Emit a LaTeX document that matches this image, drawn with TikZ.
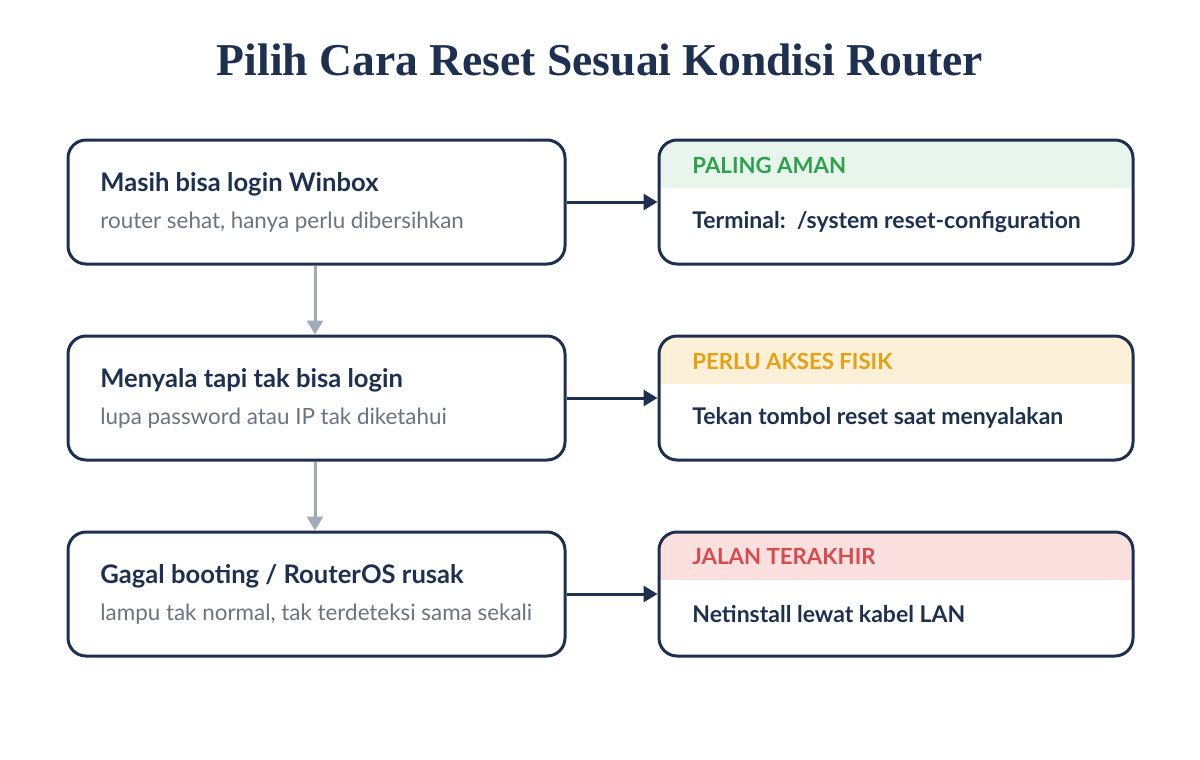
\documentclass[tikz,border=0pt]{standalone}
\usepackage{fontspec}
\setmainfont{Lato}
\newfontfamily\titlefont{Liberation Serif}
\usetikzlibrary{arrows.meta,positioning}
\definecolor{navy}{HTML}{1E3050}
\definecolor{subgray}{HTML}{6B7280}
\definecolor{arrgray}{HTML}{A0AAB8}
\definecolor{greenfill}{HTML}{E8F5EC}\definecolor{greentext}{HTML}{2EA24A}
\definecolor{orangefill}{HTML}{FCF0D8}\definecolor{orangetext}{HTML}{E8A013}
\definecolor{redfill}{HTML}{FCE0E0}\definecolor{redtext}{HTML}{D94A4A}
\tikzset{
  box/.style={draw=navy,line width=1.5pt,rounded corners=9pt,minimum width=248.5pt,minimum height=62pt,inner sep=0pt},
  rbox/.style={box,minimum width=237pt},
  head/.style={anchor=west,inner sep=0pt,font=\bfseries\fontsize{12.8}{14}\selectfont,text=navy},
  body/.style={anchor=west,inner sep=0pt,font=\bfseries\fontsize{11.5}{13}\selectfont,text=navy},
  sub/.style={anchor=west,inner sep=0pt,font=\fontsize{11.2}{13}\selectfont,text=subgray},
  tag/.style={anchor=west,inner sep=0pt,font=\bfseries\fontsize{11.1}{13}\selectfont},
  go/.style={-{Triangle[length=7pt,width=8pt]},line width=1.5pt,draw=navy},
  down/.style={-{Triangle[length=7pt,width=8pt]},line width=1.5pt,draw=arrgray}
}
\begin{document}
\begin{tikzpicture}[x=0.5pt,y=-0.5pt]
\useasboundingbox (0,0) rectangle (1200,760);
\node[font=\titlefont\bfseries\fontsize{22.8}{26}\selectfont,text=navy] (title) at (600,60) {Pilih Cara Reset Sesuai Kondisi Router};

% left column
\foreach \n/\y/\h/\s in {a/202/{Masih bisa login Winbox}/{router sehat, hanya perlu dibersihkan},
  b/398/{Menyala tapi tak bisa login}/{lupa password atau IP tak diketahui},
  c/594/{Gagal booting / RouterOS rusak}/{lampu tak normal, tak terdeteksi sama sekali}}{
  \node[box] (\n) at (316.5,\y) {};
  \node[head] at (100,\y-18) {\h};
  \node[sub] at (100,\y+20) {\s};
}

% right column
\foreach \n/\y/\f/\c/\t/\b in {pa/202/greenfill/greentext/{PALING AMAN}/{Terminal:\ \ /system reset-configuration},
  pb/398/orangefill/orangetext/{PERLU AKSES FISIK}/{Tekan tombol reset saat menyalakan},
  pc/594/redfill/redtext/{JALAN TERAKHIR}/{Netinstall lewat kabel LAN}}{
  \fill[\f,rounded corners=9pt] (659,\y-62) -- (1133,\y-62) -- (1133,\y-14) -- (659,\y-14) -- cycle;
  \fill[\f] (659,\y-30) rectangle (1133,\y-14);
  \node[rbox] (\n) at (896,\y) {};
  \node[tag,text=\c] at (692,\y-37) {\t};
  \node[body] at (692,\y+20) {\b};
}

\draw[go] (a) -- (pa);
\draw[go] (b) -- (pb);
\draw[go] (c) -- (pc);
\draw[down] (a.south -| 315,0) -- (b.north -| 315,0);
\draw[down] (b.south -| 315,0) -- (c.north -| 315,0);
\end{tikzpicture}
\end{document}
